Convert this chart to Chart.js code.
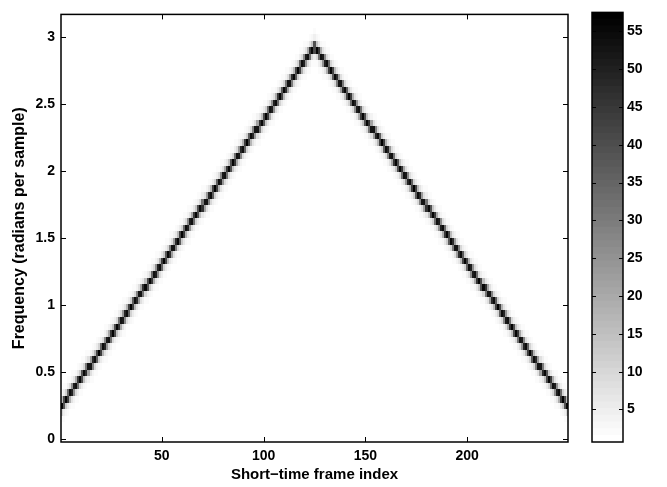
<!DOCTYPE html>
<html>
<head>
<meta charset="utf-8">
<script src="https://cdn.jsdelivr.net/npm/chart.js@4.4.1/dist/chart.umd.min.js"></script>
<style>
  html, body { margin: 0; padding: 0; background: #fff; }
  #wrap { position: relative; width: 667px; height: 487px; }
  #main { position: absolute; left: 0; top: 0; }
  #cbar { position: absolute; left: 580px; top: 0; }
</style>
</head>
<body>
<div id="wrap">
  <canvas id="main" width="575" height="487"></canvas>
  <canvas id="cbar" width="87" height="487"></canvas>
</div>
<script>
// spectrogram grid: frames 1..249, 65 frequency bins from 0 to pi
const frameCount = 249;
const binCount = 65;
const binWidth = Math.PI / (binCount - 1);

// ridge of the chirp (frame -> radians per sample)
const ridgeFrames = [1, 125, 249];
const ridgeFreqs = [0.25, 2.92, 0.25];

// level across the ridge, by distance from it in bins
const profileOffsets = [0, 0.25, 0.5, 0.75, 1, 1.5, 2, 3, 4, 6];
const profileLevels = [57, 52, 40, 24, 11, 5, 2.5, 1.3, 0.9, 0.5];

const xTicks = [50, 100, 150, 200];
const yTicks = [0, 0.5, 1, 1.5, 2, 2.5, 3];
const cbarTicks = [5, 10, 15, 20, 25, 30, 35, 40, 45, 50, 55];
const climMin = 0.7;
const climMax = 57.5;
const levels = 64;

const FAMILY = "'Liberation Sans', Arial, Helvetica, sans-serif";
const FONT = { family: FAMILY, size: 14, weight: "bold" };

function ridgeAt(n) {
  for (let i = 0; i < ridgeFrames.length - 1; i++) {
    const a = ridgeFrames[i], b = ridgeFrames[i + 1];
    if (n >= a && n <= b) {
      return ridgeFreqs[i] + (ridgeFreqs[i + 1] - ridgeFreqs[i]) * (n - a) / (b - a);
    }
  }
  return ridgeFreqs[ridgeFreqs.length - 1];
}

function levelAt(dist) {
  if (dist >= profileOffsets[profileOffsets.length - 1]) return profileLevels[profileLevels.length - 1];
  for (let i = 0; i < profileOffsets.length - 1; i++) {
    if (dist <= profileOffsets[i + 1]) {
      const t = (dist - profileOffsets[i]) / (profileOffsets[i + 1] - profileOffsets[i]);
      return profileLevels[i] + (profileLevels[i + 1] - profileLevels[i]) * t;
    }
  }
  return 0;
}

// gray colormap, reversed (white = low, black = high)
function grayFor(idx) {
  const g = Math.round(255 * (1 - idx / (levels - 1)));
  return `rgb(${g},${g},${g})`;
}
function colorFor(v) {
  let idx = Math.floor((v - climMin) / (climMax - climMin) * levels);
  idx = Math.max(0, Math.min(levels - 1, idx));
  return grayFor(idx);
}

// cells of the spectrogram
const cells = [];
for (let n = 1; n <= frameCount; n++) {
  const f = ridgeAt(n);
  for (let k = 0; k < binCount; k++) {
    const dist = Math.abs(k * binWidth - f) / binWidth;
    cells.push({ n: n, k: k, v: levelAt(dist) });
  }
}

const heatmapPlugin = {
  id: "heatmap",
  beforeDatasetsDraw(chart) {
    const { ctx, chartArea, scales: { x, y } } = chart;
    ctx.save();
    ctx.beginPath();
    ctx.rect(chartArea.left, chartArea.top, chartArea.right - chartArea.left, chartArea.bottom - chartArea.top);
    ctx.clip();
    cells.forEach((c) => {
      const x0 = Math.round(x.getPixelForValue(c.n - 0.5));
      const x1 = Math.round(x.getPixelForValue(c.n + 0.5));
      const y0 = Math.round(y.getPixelForValue(c.k * binWidth + binWidth / 2));
      const y1 = Math.round(y.getPixelForValue(c.k * binWidth - binWidth / 2));
      ctx.fillStyle = colorFor(c.v);
      ctx.fillRect(x0, y0, x1 - x0, y1 - y0);
    });
    ctx.restore();
  },
};

// box with inward ticks on every side, matlab style
function boxPlugin(tickSets, len) {
  return {
    id: "box",
    afterDraw(chart) {
      const { ctx, chartArea: a, scales } = chart;
      ctx.save();
      ctx.strokeStyle = "#000";
      ctx.lineWidth = 1;
      ctx.beginPath();
      tickSets.forEach((ts) => {
        const s = scales[ts.axis];
        ts.values.forEach((v) => {
          const p = Math.round(s.getPixelForValue(v)) + 0.5;
          if (ts.axis === "x") {
            ctx.moveTo(p, a.bottom); ctx.lineTo(p, a.bottom - len);
            ctx.moveTo(p, a.top); ctx.lineTo(p, a.top + len);
          } else {
            ctx.moveTo(a.left, p); ctx.lineTo(a.left + len, p);
            ctx.moveTo(a.right, p); ctx.lineTo(a.right - len, p);
          }
        });
      });
      ctx.stroke();
      ctx.lineWidth = 1.5;
      ctx.strokeRect(a.left, a.top, a.right - a.left, a.bottom - a.top);
      ctx.restore();
    },
  };
}

new Chart(document.getElementById("main"), {
  type: "scatter",
  data: { datasets: [{ data: [], pointRadius: 0 }] },
  options: {
    responsive: false,
    animation: false,
    devicePixelRatio: 1,
    layout: { padding: { top: 7, right: 7, left: 0, bottom: 0 } },
    plugins: { legend: { display: false }, tooltip: { enabled: false } },
    scales: {
      x: {
        type: "linear",
        min: 0.5,
        max: frameCount + 0.5,
        afterBuildTicks: (s) => { s.ticks = xTicks.map((v) => ({ value: v })); },
        afterFit: (s) => { s.height = 45; },
        grid: { display: false, drawTicks: false },
        border: { display: false },
        ticks: { color: "#000", font: FONT, padding: 6, callback: (v) => String(v) },
        title: { display: true, text: "Short\u2212time frame index", color: "#000", font: { family: FAMILY, size: 15, weight: "bold" }, padding: { top: 0, bottom: 3 } },
      },
      y: {
        type: "linear",
        min: -binWidth / 2,
        max: Math.PI + binWidth / 2,
        afterBuildTicks: (s) => { s.ticks = yTicks.map((v) => ({ value: v })); },
        afterFit: (s) => { s.width = 61; },
        grid: { display: false, drawTicks: false },
        border: { display: false },
        ticks: { color: "#000", font: FONT, padding: 6, callback: (v) => String(v) },
        title: { display: true, text: "Frequency (radians per sample)", color: "#000", font: { family: FAMILY, size: 16, weight: "bold" }, padding: { top: 10, bottom: 0 } },
      },
    },
  },
  plugins: [heatmapPlugin, boxPlugin([{ axis: "x", values: xTicks }, { axis: "y", values: yTicks }], 5)],
});

// colorbar: one floating bar per colormap level, each from the bottom up to
// its level, so the lighter ones drawn on top leave no seams
const step = (climMax - climMin) / levels;
const cbarSets = [];
for (let i = 0; i < levels; i++) {
  cbarSets.push({
    data: [[climMin, climMin + (i + 1) * step]],
    backgroundColor: grayFor(i),
    borderWidth: 0,
    barPercentage: 1,
    categoryPercentage: 1,
    grouped: false,
  });
}

new Chart(document.getElementById("cbar"), {
  type: "bar",
  data: { labels: [""], datasets: cbarSets },
  options: {
    responsive: false,
    animation: false,
    devicePixelRatio: 1,
    layout: { padding: { top: 7, left: 12, bottom: 45, right: 0 } },
    plugins: { legend: { display: false }, tooltip: { enabled: false } },
    scales: {
      x: { display: false },
      y: {
        position: "right",
        min: climMin,
        max: climMax,
        afterBuildTicks: (s) => { s.ticks = cbarTicks.map((v) => ({ value: v })); },
        afterFit: (s) => { s.width = 44; },
        grid: { display: false, drawTicks: false },
        border: { display: false },
        ticks: { color: "#000", font: FONT, padding: 4, callback: (v) => String(v) },
      },
    },
  },
  plugins: [boxPlugin([{ axis: "y", values: cbarTicks }], 4)],
});
</script>
</body>
</html>
